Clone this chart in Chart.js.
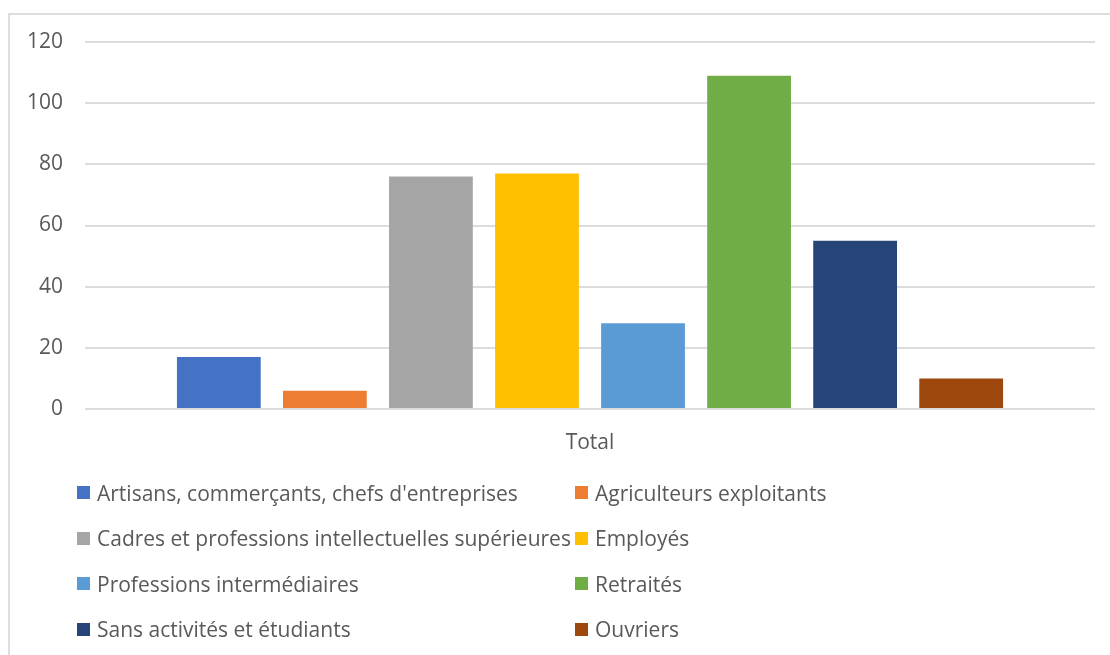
<!DOCTYPE html>
<html>
<head>
<meta charset="utf-8">
<script src="https://cdn.jsdelivr.net/npm/chart.js@4.4.1/dist/chart.umd.min.js"></script>
<style>
  body { margin: 0; background: #fff; font-family: "Open Sans", sans-serif; }
  #wrap { position: relative; width: 1110px; height: 655px; overflow: hidden; }
  #frame { position: absolute; left: 8px; top: 13px; width: 1200px; height: 700px;
           border-left: 2px solid #dedede; border-top: 2px solid #dedede; }
  #myChart { position: absolute; left: 0; top: 0; }
  #legend { position: absolute; left: 77px; top: 470px; display: grid;
            grid-template-columns: 498px auto; grid-auto-rows: 45.5px;
            color: #595959; font-size: 21px; }
  .item { display: flex; align-items: center; white-space: nowrap; }
  .box { width: 13px; height: 13px; margin-right: 7px; flex: none; }
</style>
</head>
<body>
<div id="wrap">
  <div id="frame"></div>
  <canvas id="myChart" width="1110" height="655"></canvas>
  <div id="legend"></div>
</div>
<script>
// data
const categories = ['Total'];
const seriesNames = [
    'Artisans, commerçants, chefs d\'entreprises',
    'Agriculteurs exploitants',
    'Cadres et professions intellectuelles supérieures',
    'Employés',
    'Professions intermédiaires',
    'Retraités',
    'Sans activités et étudiants',
    'Ouvriers'
];
const seriesValues = [17, 6, 76, 77, 28, 109, 55, 10];
const seriesColors = ['#4472C4', '#ED7D31', '#A5A5A5', '#FFC000', '#5B9BD5', '#70AD47', '#264478', '#9E480E'];
const yTicks = [0, 20, 40, 60, 80, 100, 120];

const datasets = seriesNames.map(function (name, i) {
    return {
        label: name,
        data: [seriesValues[i]],
        backgroundColor: seriesColors[i],
        categoryPercentage: 0.84,
        barPercentage: 0.79
    };
});

const ctx = document.getElementById('myChart');
const myChart = new Chart(ctx, {
    type: 'bar',
    data: {
        labels: categories,
        datasets: datasets
    },
    options: {
        responsive: false,
        animation: false,
        layout: {
            padding: { top: 42, right: 15, bottom: 206, left: 0 }
        },
        plugins: {
            legend: { display: false },
            tooltip: { enabled: false }
        },
        scales: {
            x: {
                grid: { display: false },
                border: { display: false },
                ticks: {
                    color: '#595959',
                    padding: 13,
                    font: { family: 'Open Sans', size: 21 }
                },
                afterFit: function (scale) { scale.height = 40; }
            },
            y: {
                min: 0,
                max: 120,
                afterBuildTicks: function (scale) {
                    scale.ticks = yTicks.map(function (v) { return { value: v }; });
                },
                grid: { color: '#dcdcdc', lineWidth: 2, drawTicks: false },
                border: { display: false },
                ticks: {
                    color: '#595959',
                    padding: 22,
                    font: { family: 'Open Sans', size: 21 }
                },
                afterFit: function (scale) { scale.width = 85; }
            }
        }
    }
});

// legend in two columns, like the spreadsheet one
var legend = document.getElementById('legend');
for (var i = 0; i < seriesNames.length; i++) {
    var item = document.createElement('div');
    item.className = 'item';
    var box = document.createElement('span');
    box.className = 'box';
    box.style.background = seriesColors[i];
    item.appendChild(box);
    item.appendChild(document.createTextNode(seriesNames[i]));
    legend.appendChild(item);
}
</script>
</body>
</html>
